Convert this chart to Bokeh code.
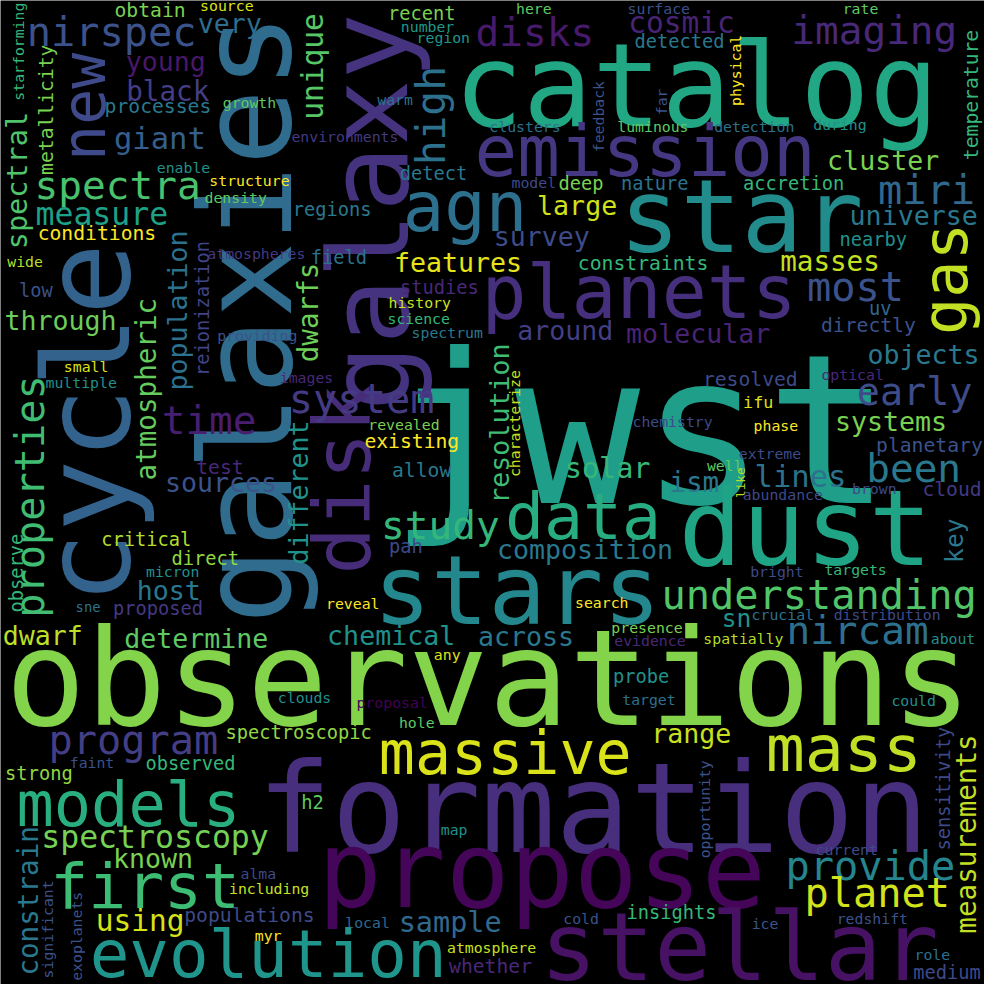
from math import pi
from bokeh.plotting import figure
from bokeh.models import ColumnDataSource, Range1d
from bokeh.core.properties import value
from bokeh.embed import file_html
from bokeh.resources import INLINE

# word, x, y, size, colour, vertical
W = [
("jwst",650,437,212,"#1f9e89",0),
("observations",496,690,136,"#84d44b",0),
("formation",602,822,126,"#472f7d",0),
("propose",550,884,108,"#450559",0),
("stellar",751,962,96,"#471164",0),
("catalog",707,87,117,"#22a785",0),
("galaxies",250,323,129,"#2f6c8e",1),
("cycle",88,430,122,"#33638d",1),
("galaxy",375,215,112,"#46337f",1),
("disk",348,487,80,"#472c7a",1),
("star",753,220,103,"#228c8d",0),
("dust",818,537,107,"#20a486",0),
("stars",525,600,97,"#24878e",0),
("emission",655,153,72,"#453781",0),
("planets",649,297,76,"#46307e",0),
("agn",472,210,70,"#2d708e",0),
("data",592,524,66,"#27ad81",0),
("gas",960,283,63,"#c2df23",1),
("massive",513,765,61,"#dae319",0),
("mass",857,760,66,"#c0df25",0),
("models",130,817,63,"#29af7f",0),
("first",147,900,64,"#3dbc74",0),
("evolution",272,970,67,"#1f958b",0),
("new",85,108,61,"#3e4a89",1),
("nirspec",113,33,41,"#3b528b",0),
("imaging",888,30,40,"#482878",0),
("system",367,405,41,"#443b84",0),
("time",212,426,40,"#481f70",0),
("spectra",119,187,40,"#4ac16d",0),
("giant",162,140,31,"#355f8d",0),
("black",170,92,28,"#433e85",0),
("young",168,62,27,"#48186a",0),
("very",233,23,27,"#2e6e8e",0),
("obtain",152,10,20,"#7ad151",0),
("source",230,5,15,"#dde318",0),
("starforming",18,52,15,"#35b779",1),
("metallicity",47,111,20,"#7ad151",1),
("processes",160,108,20,"#2a788e",0),
("growth",253,104,15,"#5ec962",0),
("enable",186,170,15,"#21918c",0),
("structure",253,183,15,"#fde725",0),
("density",239,200,15,"#5ec962",0),
("measure",103,217,32,"#1fa187",0),
("conditions",98,237,20,"#fde725",0),
("spectral",17,183,29,"#50c46a",1),
("wide",25,265,15,"#b5de2b",0),
("low",36,295,19,"#3b528b",0),
("through",61,325,27,"#6ccd5a",0),
("small",87,372,15,"#dde318",0),
("multiple",82,388,15,"#21918c",0),
("properties",30,504,41,"#40bd72",1),
("atmospheric",148,395,28,"#65cb5e",1),
("population",180,315,27,"#2c728e",1),
("reionization",205,313,19,"#414487",1),
("dwarfs",313,317,28,"#6ece58",1),
("different",303,500,27,"#20928c",1),
("unique",318,67,30,"#56c667",1),
("high",437,117,42,"#2d708e",1),
("recent",428,13,19,"#7ad151",0),
("number",434,26,15,"#1f968b",0),
("region",450,38,15,"#1f968b",0),
("warm",401,101,15,"#2c728e",0),
("environments",350,138,15,"#443983",0),
("detect",440,176,19,"#2a788e",0),
("regions",337,212,19,"#2a788e",0),
("atmospheres",260,257,15,"#443983",0),
("field",344,261,19,"#2c728e",0),
("features",465,266,27,"#e5e419",0),
("studies",446,292,19,"#482878",0),
("history",426,307,15,"#c8e020",0),
("science",425,323,15,"#35b779",0),
("spectrum",454,337,15,"#2a788e",0),
("providing",261,340,15,"#3b528b",0),
("images",311,383,15,"#482878",0),
("revealed",410,431,15,"#7ad151",0),
("existing",418,448,20,"#fde725",0),
("allow",428,478,20,"#2a788e",0),
("test",223,475,20,"#482878",0),
("sources",224,490,27,"#3b528b",0),
("here",542,8,15,"#5ec962",0),
("disks",543,32,40,"#481a6c",0),
("surface",669,8,15,"#3b528b",0),
("cosmic",692,23,30,"#482475",0),
("detected",690,42,19,"#2a788e",0),
("rate",874,8,15,"#5ec962",0),
("physical",747,71,15,"#fde725",1),
("far",672,103,15,"#3b528b",1),
("feedback",608,118,15,"#3b528b",1),
("temperature",987,96,20,"#35b779",1),
("clusters",533,128,15,"#2c728e",0),
("luminous",663,128,15,"#5ec962",0),
("detection",766,128,15,"#2c728e",0),
("during",853,126,15,"#21918c",0),
("cluster",897,163,27,"#7ad151",0),
("model",542,185,15,"#3e4a89",0),
("deep",590,186,19,"#7ad151",0),
("nature",665,186,19,"#2c728e",0),
("accretion",806,186,19,"#35b779",0),
("miri",941,193,41,"#31688e",0),
("large",586,208,27,"#d0e11c",0),
("universe",928,218,27,"#2a788e",0),
("survey",550,240,27,"#3e4c8a",0),
("nearby",887,243,19,"#21918c",0),
("masses",843,265,28,"#c5e021",0),
("constraints",653,267,20,"#35b779",0),
("most",869,292,41,"#3b528b",0),
("uv",894,313,19,"#31688e",0),
("directly",882,330,20,"#3b528b",0),
("around",574,335,27,"#433e85",0),
("molecular",709,338,27,"#482475",0),
("objects",938,360,27,"#2a788e",0),
("resolved",762,385,20,"#3e4a89",0),
("optical",866,380,15,"#482878",0),
("early",929,397,39,"#3e4c8a",0),
("ifu",770,408,17,"#dde318",0),
("systems",905,428,27,"#7ad151",0),
("chemistry",683,428,15,"#3e4a89",0),
("phase",788,432,15,"#fde725",0),
("planetary",944,452,20,"#3b528b",0),
("extreme",782,460,15,"#3e4a89",0),
("well",736,473,15,"#5ec962",0),
("like",752,490,13,"#b5de2b",1),
("been",928,475,40,"#2a788e",0),
("lines",813,484,31,"#2c728e",0),
("solar",617,476,29,"#35b779",0),
("ism",705,490,28,"#2a788e",0),
("resolution",507,430,27,"#3fbc73",1),
("characterize",522,430,15,"#c8e020",1),
("abundance",795,502,15,"#3e4a89",0),
("brown",888,496,15,"#3e4a89",0),
("cloud",967,497,20,"#443983",0),
("observe",16,582,19,"#35b779",1),
("critical",148,548,19,"#b5de2b",0),
("direct",208,567,19,"#90d743",0),
("micron",175,580,15,"#21918c",0),
("host",171,600,27,"#2a788e",0),
("sne",89,616,14,"#2c728e",0),
("proposed",160,618,19,"#443983",0),
("dwarf",43,645,27,"#bddf26",0),
("determine",199,648,27,"#5ec962",0),
("program",135,752,41,"#433e85",0),
("spectroscopic",303,744,19,"#90d743",0),
("clouds",309,708,15,"#21918c",0),
("proposal",398,713,15,"#440154",0),
("hole",423,734,15,"#5ec962",0),
("faint",93,774,15,"#3b528b",0),
("observed",193,775,19,"#35b779",0),
("strong",39,786,19,"#90d743",0),
("spectroscopy",157,850,32,"#75d054",0),
("h2",317,815,19,"#5ec962",0),
("map",461,842,15,"#21918c",0),
("known",155,872,27,"#7ad151",0),
("alma",262,887,15,"#3e4a89",0),
("including",273,902,15,"#c8e020",0),
("constrain",28,915,28,"#2a788e",1),
("significant",48,944,15,"#3b528b",1),
("exoplanets",77,951,15,"#3b528b",1),
("using",142,935,30,"#d8e219",0),
("populations",253,930,20,"#3e4a89",0),
("local",373,937,15,"#31688e",0),
("myr",272,950,15,"#fde725",0),
("sample",457,937,29,"#31688e",0),
("atmosphere",499,962,15,"#c8e020",0),
("whether",498,982,20,"#482878",0),
("key",970,549,25,"#2a788e",1),
("composition",594,558,27,"#2a788e",0),
("bright",789,580,15,"#3e4a89",0),
("targets",869,578,15,"#35b779",0),
("understanding",832,605,41,"#52c569",0),
("search",611,612,15,"#fde725",0),
("sn",748,628,25,"#21918c",0),
("crucial",795,624,15,"#2c728e",0),
("distribution",901,624,15,"#3e4a89",0),
("nircam",871,640,40,"#2d708e",0),
("presence",657,637,15,"#7ad151",0),
("chemical",397,645,27,"#21918c",0),
("across",534,646,27,"#2a788e",0),
("evidence",660,650,15,"#482878",0),
("spatially",755,648,15,"#b5de2b",0),
("about",968,648,15,"#21918c",0),
("any",454,665,15,"#dde318",0),
("probe",651,687,19,"#21918c",0),
("target",659,710,15,"#2c728e",0),
("could",928,711,15,"#21918c",0),
("range",702,745,27,"#c8e020",0),
("sensitivity",958,801,19,"#3e4a89",1),
("measurements",982,847,28,"#c2df23",1),
("opportunity",715,822,15,"#3b528b",1),
("current",860,863,15,"#3e4a89",0),
("provide",884,880,41,"#25858e",0),
("planet",891,908,41,"#d2e21b",0),
("insights",682,927,19,"#35b779",0),
("cold",590,933,15,"#3b528b",0),
("ice",777,938,15,"#3b528b",0),
("redshift",886,933,15,"#3b528b",0),
("role",947,970,15,"#2c728e",0),
("medium",962,988,19,"#3e4a89",0),
("study",447,533,40,"#35b779",0),
("pah",412,555,19,"#3e4a89",0),
("reveal",358,613,15,"#fde725",0),
]

words = [w[0] for w in W]
xs = [w[1] for w in W]
ys = [w[2] for w in W]
sizes = [w[3] for w in W]
colors = [w[4] for w in W]
vert = [w[5] for w in W]

S = 984
scale = S / 1000.0
src = ColumnDataSource(dict(
    text=words, x=xs, y=ys,
    fs=["%.1fpx" % (s * scale) for s in sizes],
    c=colors, a=[pi / 2 if v else 0.0 for v in vert]))

p = figure(width=S, height=S, output_backend="svg", toolbar_location=None,
           x_range=Range1d(0, 1000), y_range=Range1d(1000, 0),
           min_border=0, background_fill_color="black", border_fill_color="black")
p.axis.visible = False
p.grid.visible = False
p.outline_line_color = None
p.text(x="x", y="y", text="text", source=src, text_font_size="fs",
       text_color="c", angle="a", text_align="center", text_baseline="middle",
       text_font=value("DejaVu Sans Mono"))

open("out.html", "w").write(file_html(p, INLINE))
